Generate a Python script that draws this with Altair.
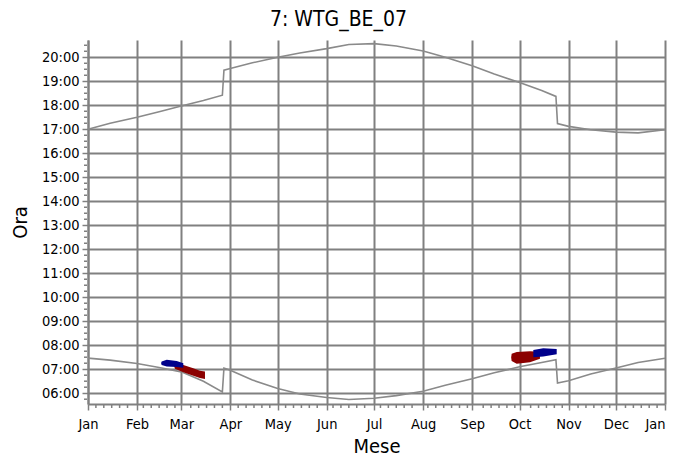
import altair as alt
import pandas as pd

# ---- data ----
curve_dates = ["2021-01-01","2021-01-15","2021-02-01","2021-02-15","2021-03-01","2021-03-15",
               "2021-03-27","2021-03-28","2021-04-01","2021-04-15","2021-05-01","2021-05-15",
               "2021-06-01","2021-06-15","2021-07-01","2021-07-15","2021-08-01","2021-08-15",
               "2021-09-01","2021-09-15","2021-10-01","2021-10-15","2021-10-24","2021-10-25",
               "2021-11-01","2021-11-15","2021-12-01","2021-12-15","2022-01-01"]
sunset = [17.00,17.25,17.50,17.73,17.97,18.20,18.42,19.46,19.53,19.77,20.00,20.18,
          20.36,20.53,20.57,20.47,20.26,20.00,19.65,19.30,18.95,18.62,18.37,17.24,
          17.12,16.98,16.88,16.85,16.98]
sunrise = [7.46,7.38,7.24,7.07,6.89,6.50,6.05,7.05,6.96,6.55,6.20,5.97,
           5.82,5.74,5.79,5.90,6.08,6.33,6.60,6.85,7.10,7.28,7.40,6.42,
           6.52,6.80,7.05,7.28,7.46]

# shadow flicker periods (day of year, start/end hour)
red_mar_day = [54.6, 55.0, 60.3, 66.6, 70.8, 74.0]
red_mar_top = [7.12, 7.21, 7.18, 7.04, 6.94, 6.90]
red_mar_bot = [7.10, 7.02, 6.87, 6.73, 6.63, 6.59]
blue_mar_day = [46.3, 46.6, 49.8, 56.1, 60.3]
blue_mar_top = [7.27, 7.32, 7.39, 7.34, 7.25]
blue_mar_bot = [7.23, 7.18, 7.11, 7.09, 7.06]
red_oct_day = [267.7, 268.0, 271.2, 279.6, 285.9]
red_oct_top = [7.50, 7.64, 7.72, 7.75, 7.73]
red_oct_bot = [7.48, 7.34, 7.23, 7.29, 7.44]
blue_oct_day = [281.7, 288.0, 296.5]
blue_oct_top = [7.80, 7.87, 7.84]
blue_oct_bot = [7.50, 7.53, 7.62]

month_names = ["Jan","Feb","Mar","Apr","May","Jun","Jul","Aug","Sep","Oct","Nov","Dec","Jan"]
month_starts = [0,31,59,90,120,151,181,212,243,273,304,334,365]
hours = list(range(6, 21))

FONT = "Liberation Sans Narrow, DejaVu Sans Condensed, Liberation Sans, sans-serif"
GRAY = "#808080"

# ---- build tables ----
base = pd.Timestamp("2021-01-01")
days = [(pd.Timestamp(d) - base).days for d in curve_dates]
curves = pd.DataFrame({
    "day": days * 2,
    "hour": sunrise + sunset,
    "serie": ["alba"] * len(days) + ["tramonto"] * len(days),
})

def blob(name, d, t, b):
    return pd.DataFrame({"day": d, "top": t, "bot": b, "blob": name})

red = pd.concat([blob("r_mar", red_mar_day, red_mar_top, red_mar_bot),
                 blob("r_oct", red_oct_day, red_oct_top, red_oct_bot)])
blue = pd.concat([blob("b_mar", blue_mar_day, blue_mar_top, blue_mar_bot),
                  blob("b_oct", blue_oct_day, blue_oct_top, blue_oct_bot)])

# minor tick positions
x_minor = [d for d in range(5, 365, 5) if min(abs(d - m) for m in month_starts) > 2]
y_minor = [h + q for h in range(5, 21) for q in (0.25, 0.5, 0.75) if 5.55 < h + q < 20.72]
xminor_df = pd.DataFrame({"day": x_minor})
yminor_df = pd.DataFrame({"hour": y_minor})

ms_js = "[" + ",".join(str(m) for m in month_starts) + "]"
mn_js = "[" + ",".join("'" + n + "'" for n in month_names) + "]"

x_axis = alt.Axis(
    values=month_starts,
    labelExpr=f"{mn_js}[indexof({ms_js}, datum.value)]",
    labelOffset={"condition": {"test": "datum.value >= 365", "value": -10}, "value": 0},
    grid=True, gridColor=GRAY, gridWidth=2,
    domainColor=GRAY, domainWidth=2, tickColor=GRAY, tickWidth=1.5, tickSize=6,
    labelFont=FONT, labelFontSize=14.5, labelColor="black", labelPadding=7,
    labelOverlap=False, labelFlush=False,
    title="Mese", titleFont=FONT, titleFontSize=20, titleFontWeight="normal",
    titleColor="black", titlePadding=6,
)
y_axis = alt.Axis(
    values=hours,
    labelExpr="(datum.value < 10 ? '0' : '') + datum.value + ':00'",
    grid=True, gridColor=GRAY, gridWidth=2,
    domainColor=GRAY, domainWidth=2, tickColor=GRAY, tickWidth=1.5, tickSize=6,
    labelFont=FONT, labelFontSize=14.5, labelColor="black", labelPadding=3,
    labelOverlap=False, labelFlush=False,
    title="Ora", titleFont=FONT, titleFontSize=20, titleFontWeight="normal",
    titleColor="black", titlePadding=11,
)

xs = alt.Scale(domain=[0, 365], nice=False, zero=False)
ys = alt.Scale(domain=[5.55, 20.72], nice=False, zero=False)

lines = alt.Chart(curves).mark_line(color="#8a8a8a", strokeWidth=1.6).encode(
    x=alt.X("day:Q", scale=xs, axis=x_axis),
    y=alt.Y("hour:Q", scale=ys, axis=y_axis),
    detail="serie:N",
)
red_area = alt.Chart(red).mark_area(color="#8b0000", opacity=1).encode(
    x=alt.X("day:Q", scale=xs, axis=None), y=alt.Y("top:Q", scale=ys, axis=None),
    y2="bot:Q", detail="blob:N",
)
blue_area = alt.Chart(blue).mark_area(color="#00008b", opacity=1).encode(
    x=alt.X("day:Q", scale=xs, axis=None), y=alt.Y("top:Q", scale=ys, axis=None),
    y2="bot:Q", detail="blob:N",
)
x_minor_ticks = alt.Chart(xminor_df).mark_rule(color=GRAY, strokeWidth=1.5, clip=False).encode(
    x=alt.X("day:Q", scale=xs, axis=None), y=alt.value(365), y2=alt.value(368),
)
y_minor_ticks = alt.Chart(yminor_df).mark_rule(color=GRAY, strokeWidth=1.5, clip=False).encode(
    y=alt.Y("hour:Q", scale=ys, axis=None), x=alt.value(-4), x2=alt.value(-1),
)

chart = alt.layer(lines, red_area, blue_area, x_minor_ticks, y_minor_ticks).resolve_axis(
    x="independent", y="independent"
).properties(
    width=577, height=364,
    title=alt.TitleParams("7: WTG_BE_07", font=FONT, fontSize=21, fontWeight="normal",
                          color="black", anchor="middle", dx=-38, offset=10),
    autosize=alt.AutoSizeParams(type="none"),
    padding={"left": 80, "top": 32, "right": 4, "bottom": 53},
).configure(background="white").configure_view(strokeWidth=0)

chart.save("out.html", embed_options={"renderer": "svg", "actions": False})
